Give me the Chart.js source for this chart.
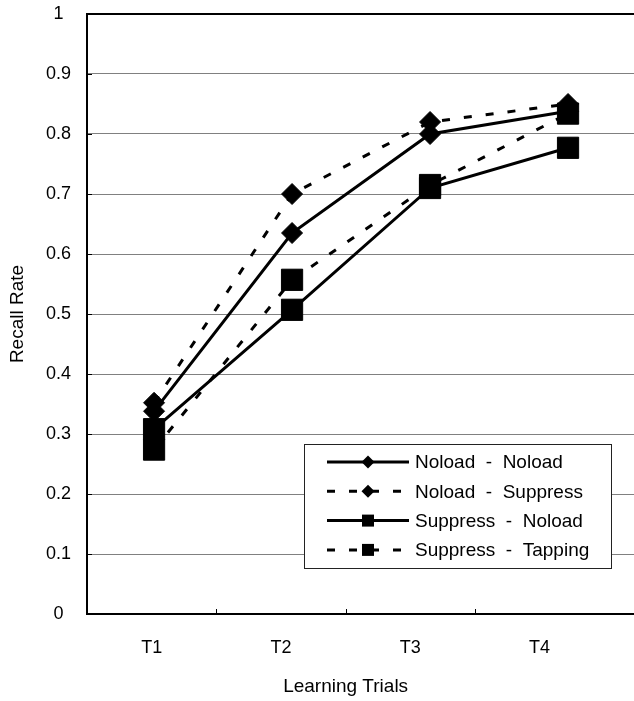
<!DOCTYPE html>
<html>
<head>
<meta charset="utf-8">
<script src="https://cdn.jsdelivr.net/npm/chart.js@4/dist/chart.umd.min.js"></script>
<style>
  html, body { margin: 0; padding: 0; background: #fff; overflow: hidden; }
  #wrap { width: 634px; height: 701px; }
  canvas { display: block; }
</style>
</head>
<body>
<div id="wrap"><canvas id="c" width="634" height="701"></canvas></div>
<script>
// Recall rate across four learning trials, one series per load condition
const trials = ['T1', 'T2', 'T3', 'T4'];
const noloadNoload    = [0.338, 0.635, 0.800, 0.838];
const noloadSuppress  = [0.352, 0.700, 0.820, 0.850];
const suppressNoload  = [0.308, 0.507, 0.710, 0.777];
const suppressTapping = [0.274, 0.557, 0.715, 0.834];
const seriesNames = [
  'Noload  -  Noload',
  'Noload  -  Suppress',
  'Suppress  -  Noload',
  'Suppress  -  Tapping'
];
const yTicks = [0, 0.1, 0.2, 0.3, 0.4, 0.5, 0.6, 0.7, 0.8, 0.9, 1];
const trialBoundaries = [1.5, 2.5, 3.5];
const xTitle = 'Learning Trials';

const FONT = "'Liberation Sans', Arial, sans-serif";
const DASH = [8, 14];

function toPoints(values) {
  return values.map((v, i) => ({ x: i + 1, y: v }));
}

function series(label, values, dashed, shape, order) {
  const isSquare = shape === 'rect';
  return {
    label,
    data: toPoints(values),
    xAxisID: 'xd',
    borderColor: '#000',
    backgroundColor: '#000',
    borderWidth: 3,
    borderDash: dashed ? DASH : [],
    pointStyle: shape,
    pointRadius: isSquare ? 15 : 10.5,
    pointHoverRadius: isSquare ? 15 : 10.5,
    pointBackgroundColor: '#000',
    pointBorderColor: '#000',
    pointBorderWidth: 1,
    tension: 0,
    fill: false,
    clip: false,
    order
  };
}

// Boxed legend with a line sample and marker per series
const legendBox = {
  id: 'legendBox',
  afterDatasetsDraw(chart) {
    const ctx = chart.ctx;
    const bx = 304, by = 444, bw = 307, bh = 124;
    const rowTop = 18, rowStep = 29.3;
    const lineX0 = bx + 23, lineX1 = bx + 105, markX = bx + 64, textX = bx + 111;
    ctx.save();
    ctx.fillStyle = '#fff';
    ctx.fillRect(bx, by, bw, bh);
    ctx.strokeStyle = '#222';
    ctx.lineWidth = 1;
    ctx.strokeRect(bx + 0.5, by + 0.5, bw, bh);
    chart.data.datasets.forEach((ds, i) => {
      const cy = by + rowTop + i * rowStep;
      ctx.beginPath();
      ctx.setLineDash(ds.borderDash || []);
      ctx.lineWidth = 3;
      ctx.strokeStyle = '#000';
      ctx.moveTo(lineX0, cy);
      ctx.lineTo(lineX1, cy);
      ctx.stroke();
      ctx.setLineDash([]);
      ctx.fillStyle = '#000';
      ctx.beginPath();
      if (ds.pointStyle === 'rect') {
        ctx.rect(markX - 6, cy - 6, 12, 12);
      } else {
        ctx.moveTo(markX, cy - 6.5);
        ctx.lineTo(markX + 6.5, cy);
        ctx.lineTo(markX, cy + 6.5);
        ctx.lineTo(markX - 6.5, cy);
        ctx.closePath();
      }
      ctx.fill();
      ctx.font = '19px ' + FONT;
      ctx.textAlign = 'left';
      ctx.textBaseline = 'middle';
      ctx.fillText(ds.label, textX, cy + 1);
    });
    ctx.restore();
  }
};

// Short inward tick marks on both axes, and the category axis title
const axisExtras = {
  id: 'axisExtras',
  beforeDatasetsDraw(chart) {
    const { ctx, chartArea, scales } = chart;
    ctx.save();
    ctx.strokeStyle = '#000';
    ctx.lineWidth = 1;
    trialBoundaries.forEach(v => {
      const px = Math.round(scales.x.getPixelForValue(v)) + 0.5;
      ctx.beginPath();
      ctx.moveTo(px, chartArea.bottom);
      ctx.lineTo(px, chartArea.bottom - 5);
      ctx.stroke();
    });
    yTicks.forEach(v => {
      if (v === 0 || v === 1) return;
      const py = Math.round(scales.y.getPixelForValue(v)) + 0.5;
      ctx.beginPath();
      ctx.moveTo(chartArea.left, py);
      ctx.lineTo(chartArea.left + 5, py);
      ctx.stroke();
    });
    // title centred under the four trials
    const mid = scales.x.getPixelForValue((1 + trials.length) / 2);
    ctx.fillStyle = '#000';
    ctx.font = '19px ' + FONT;
    ctx.textAlign = 'center';
    ctx.textBaseline = 'middle';
    ctx.fillText(xTitle, mid, scales.x.bottom - 14);
    ctx.restore();
  }
};

new Chart(document.getElementById('c'), {
  type: 'line',
  data: {
    datasets: [
      series(seriesNames[0], noloadNoload, false, 'rectRot', 4),
      series(seriesNames[1], noloadSuppress, true, 'rectRot', 3),
      series(seriesNames[2], suppressNoload, false, 'rect', 2),
      series(seriesNames[3], suppressTapping, true, 'rect', 1)
    ]
  },
  options: {
    responsive: false,
    animation: false,
    devicePixelRatio: 1,
    layout: { autoPadding: false, padding: { top: 14, left: 0, right: 0, bottom: 0 } },
    plugins: {
      legend: { display: false },
      tooltip: { enabled: false }
    },
    scales: {
      // category labels T1..T4
      x: {
        type: 'linear',
        position: 'bottom',
        min: 0.5,
        max: 4.73,
        afterBuildTicks: s => { s.ticks = trials.map((t, i) => ({ value: i + 1 })); },
        afterFit: s => { s.height = 87; s.paddingRight = 0; s.paddingLeft = 0; },
        ticks: {
          autoSkip: false,
          maxRotation: 0,
          padding: 23,
          color: '#000',
          font: { family: FONT, size: 18 },
          callback: v => trials[Math.round(v) - 1]
        },
        grid: { display: true, drawOnChartArea: false, drawTicks: false },
        border: { display: true, color: '#000', width: 2 },
        title: { display: false }
      },
      // horizontal placement of the plotted trials
      xd: {
        type: 'linear',
        display: false,
        position: 'bottom',
        min: 0.514,
        max: 4.478
      },
      y: {
        min: 0,
        max: 1,
        afterBuildTicks: s => { s.ticks = yTicks.map(v => ({ value: v })); },
        afterFit: s => { s.width = 87; s.paddingTop = 0; s.paddingBottom = 0; },
        ticks: {
          padding: 16,
          crossAlign: 'center',
          color: '#000',
          font: { family: FONT, size: 18 },
          callback: v => String(Number(v.toFixed(1)))
        },
        grid: {
          drawTicks: false,
          color: c => (c.tick && c.tick.value === 1 ? '#000' : (c.tick && c.tick.value === 0 ? 'rgba(0,0,0,0)' : '#808080')),
          lineWidth: c => (c.tick && c.tick.value === 1 ? 2 : 1)
        },
        border: { display: true, color: '#000', width: 2 },
        title: {
          display: true,
          text: 'Recall Rate',
          color: '#000',
          font: { family: FONT, size: 19 },
          padding: { top: 6, bottom: 0 }
        }
      }
    }
  },
  plugins: [axisExtras, legendBox]
});
</script>
</body>
</html>
